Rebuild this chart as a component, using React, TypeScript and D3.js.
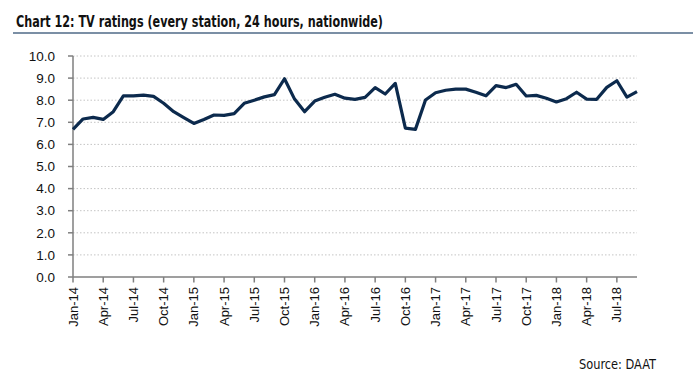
import React from "react";
import * as d3 from "d3";

const months = ["Jan","Feb","Mar","Apr","May","Jun","Jul","Aug","Sep","Oct","Nov","Dec"];
const startYear = 14;
const values = [
  6.68, 7.15, 7.22, 7.13, 7.48, 8.2, 8.2, 8.23, 8.17, 7.86, 7.48, 7.21,
  6.95, 7.13, 7.33, 7.31, 7.39, 7.86, 8.0, 8.15, 8.25, 8.97, 8.05, 7.48,
  7.96, 8.13, 8.27, 8.09, 8.04, 8.13, 8.57, 8.28, 8.76, 6.74, 6.68, 8.01,
  8.34, 8.45, 8.5, 8.5, 8.36, 8.2, 8.66, 8.57, 8.72, 8.19, 8.22, 8.09,
  7.92, 8.07, 8.36, 8.05, 8.04, 8.58, 8.88, 8.14, 8.39,
];
const labels = values.map((_, i) => `${months[i % 12]}-${startYear + Math.floor(i / 12)}`);
const yTicks = d3.range(0, 11, 1);
const title = "Chart 12: TV ratings (every station, 24 hours, nationwide)";
const source = "Source: DAAT";

export default function App() {
  const W = 698, H = 374;
  const x = d3.scaleLinear().domain([0, values.length - 1]).range([73, 637]);
  const y = d3.scaleLinear().domain([0, 10]).range([277, 56]);
  const line = d3.line<number>().x((_, i) => x(i)).y((d) => y(d));
  const xTickIdx = values.map((_, i) => i).filter((i) => i % 3 === 0);
  const axisColor = "#7f7f7f";
  const font = "Liberation Sans, Arial, sans-serif";
  return (
    <svg width={W} height={H} style={{ position: "absolute", left: 0, top: 0, background: "#fff" }}>
      <text x={16} y={27} fontFamily="DejaVu Sans Condensed, DejaVu Sans, sans-serif" fontWeight="bold" fontSize={15.5}
        textLength={367} lengthAdjust="spacingAndGlyphs" fill="#111">{title}</text>
      <line x1={13} x2={693} y1={33} y2={33} stroke="#7b8fa5" strokeWidth={2.2} />
      {yTicks.filter((t) => t > 0).map((t) => (
        <line key={"g" + t} x1={x(0)} x2={x(values.length - 1)} y1={y(t)} y2={y(t)}
          stroke="#c4c4c4" strokeWidth={1} strokeDasharray="1.5,2" />
      ))}
      <line x1={x(0)} x2={x(0)} y1={y(10)} y2={y(0)} stroke={axisColor} strokeWidth={1.5} />
      <line x1={x(0)} x2={x(values.length - 1)} y1={y(0)} y2={y(0)} stroke={axisColor} strokeWidth={1.5} />
      {yTicks.map((t) => (
        <g key={"y" + t}>
          <line x1={x(0) - 5} x2={x(0)} y1={y(t)} y2={y(t)} stroke={axisColor} strokeWidth={1.5} />
          <text x={55} y={y(t)} dy="0.35em" textAnchor="end" fontFamily={font} fontSize={13.5} fill="#111">
            {t.toFixed(1)}
          </text>
        </g>
      ))}
      {xTickIdx.map((i) => (
        <g key={"x" + i}>
          <line x1={x(i)} x2={x(i)} y1={y(0)} y2={y(0) + 5.5} stroke={axisColor} strokeWidth={1.5} />
          <text transform={`translate(${x(i) + 4.5},${287}) rotate(-90)`} textAnchor="end"
            fontFamily={font} fontSize={13} fill="#111">{labels[i]}</text>
        </g>
      ))}
      <path d={line(values) || ""} fill="none" stroke="#0c2a4d" strokeWidth={3.2} strokeLinejoin="round" />
      <text x={656} y={369} textAnchor="end" fontFamily="DejaVu Sans Condensed, DejaVu Sans, sans-serif" fontSize={14}
        textLength={77} lengthAdjust="spacingAndGlyphs" fill="#111">{source}</text>
    </svg>
  );
}
